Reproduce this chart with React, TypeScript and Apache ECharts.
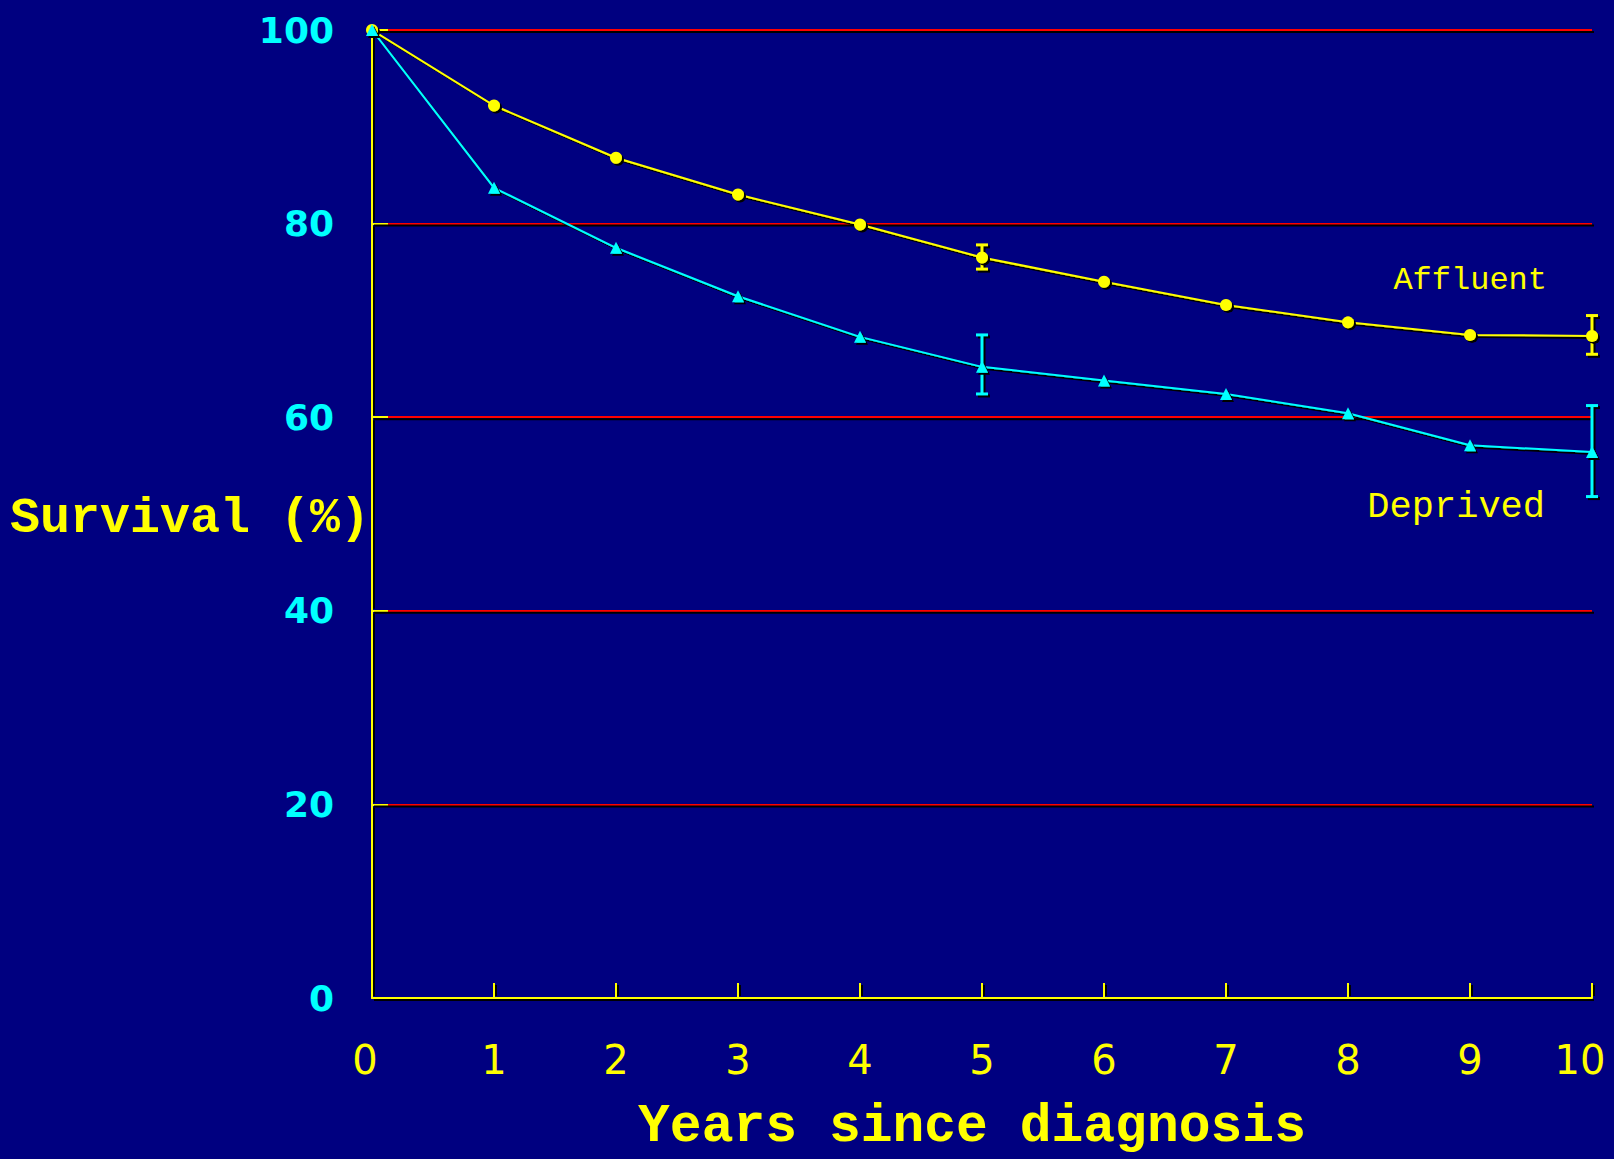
import React, { useEffect, useRef } from "react";
import * as echarts from "echarts";

const years = [0, 1, 2, 3, 4, 5, 6, 7, 8, 9, 10];
const affluent = [100, 92.2, 86.8, 83.0, 79.9, 76.5, 74.0, 71.6, 69.8, 68.5, 68.4];
const deprived = [100, 83.7, 77.5, 72.5, 68.3, 65.2, 63.8, 62.4, 60.4, 57.1, 56.4];
// [year, lower, upper]
const affluentCI = [
  [5, 75.3, 77.8],
  [10, 66.5, 70.5],
];
const deprivedCI = [
  [5, 62.4, 68.5],
  [10, 51.8, 61.2],
];
const yTicks = [0, 20, 40, 60, 80, 100];

const YELLOW = "#FFFF00";
const CYAN = "#00FFFF";
const NAVY = "#000080";
const RED = "#FF0000";
const SH = 2;

const shadow = { shadowColor: "#000", shadowOffsetX: 2, shadowOffsetY: 2, shadowBlur: 0 };
const textShadow = { textShadowColor: "#000", textShadowOffsetX: 2, textShadowOffsetY: 2, textShadowBlur: 0 };

function seg(x1: number, y1: number, x2: number, y2: number, style: any) {
  return { type: "line", shape: { x1, y1, x2, y2 }, style };
}

function errorSeries(data: number[][], color: string) {
  return {
    type: "custom",
    data,
    clip: false,
    z: 3,
    renderItem: (params: any, api: any) => {
      const x = api.value(0);
      const lo = api.value(1);
      const hi = api.value(2);
      const pLo = api.coord([x, lo]);
      const pHi = api.coord([x, hi]);
      const hw = 6;
      const children: any[] = [];
      const styles = [
        { stroke: "#000", lineWidth: 3, d: SH },
        { stroke: color, lineWidth: 3, d: 0 },
      ];
      styles.forEach((s) => {
        const st = { stroke: s.stroke, lineWidth: s.lineWidth };
        const d = s.d;
        children.push(seg(pLo[0] + d, pLo[1] + d, pHi[0] + d, pHi[1] + d, st));
        children.push(seg(pHi[0] - hw + d, pHi[1] + d, pHi[0] + hw + d, pHi[1] + d, st));
        children.push(seg(pLo[0] - hw + d, pLo[1] + d, pLo[0] + hw + d, pLo[1] + d, st));
      });
      return { type: "group", children };
    },
  };
}

export default function App() {
  const ref = useRef<HTMLDivElement>(null);
  useEffect(() => {
    document.body.style.margin = "0";
    document.body.style.background = NAVY;
    const chart = echarts.init(ref.current!, null, { renderer: "svg" });
    chart.setOption({
      animation: false,
      backgroundColor: NAVY,
      grid: { left: 372, right: 22, top: 30, bottom: 161, containLabel: false, outerBoundsMode: "none" },
      xAxis: {
        type: "value",
        min: 0,
        max: 10,
        interval: 1,
        name: "Years since diagnosis",
        nameLocation: "middle",
        nameGap: 102,
        nameTextStyle: {
          fontFamily: "Liberation Mono",
          fontWeight: "bold",
          fontSize: 53,
          color: YELLOW,
          padding: [0, 20, 0, 0],
          ...textShadow,
        },
        axisLine: { show: true, onZero: false, lineStyle: { color: YELLOW, width: 2 } },
        axisTick: { show: true, inside: true, length: 15, lineStyle: { color: YELLOW, width: 2 } },
        splitLine: { show: false },
        axisLabel: {
          margin: 42,
          fontFamily: "DejaVu Sans",
          fontSize: 40,
          color: YELLOW,
          ...textShadow,
          formatter: (v: number) => (v === 0 ? "{a|0}" : v === 10 ? "{b|10}" : String(v)),
          rich: {
            a: { fontFamily: "DejaVu Sans", fontSize: 40, color: YELLOW, padding: [0, 14, 0, 0], ...textShadow },
            b: { fontFamily: "DejaVu Sans", fontSize: 40, color: YELLOW, padding: [0, 24, 0, 0], ...textShadow },
          },
        },
      },
      yAxis: {
        type: "value",
        min: 0,
        max: 100,
        interval: 20,
        axisLine: { show: true, lineStyle: { color: YELLOW, width: 2 } },
        axisTick: { show: true, inside: true, length: 16, lineStyle: { color: YELLOW, width: 2 } },
        splitLine: { show: true, lineStyle: { color: RED, width: 2 } },
        axisLabel: {
          margin: 38,
          fontFamily: "DejaVu Sans",
          fontWeight: "bold",
          fontSize: 36,
          color: CYAN,
          ...textShadow,
          formatter: (v: number) => (yTicks.includes(v) ? String(v) : ""),
        },
      },
      series: [
        {
          // drop shadows of grid lines and y axis line
          type: "custom",
          data: yTicks.map((v) => [v]),
          clip: false,
          silent: true,
          z: 1,
          renderItem: (params: any, api: any) => {
            const v = api.value(0);
            const a = api.coord([0, v]);
            const b = api.coord([10, v]);
            const st = { stroke: "#000", lineWidth: 2 };
            const children: any[] = [seg(a[0] + SH, a[1] + SH, b[0] + SH, b[1] + SH, st)];
            if (v < 100) {
              const up = api.coord([0, v + 20]);
              children.push(seg(a[0] + SH, a[1] - 2, up[0] + SH, up[1] + 3, st));
            }
            return { type: "group", children };
          },
        },
        {
          // drop shadows of x ticks
          type: "custom",
          data: years.map((v) => [v]),
          clip: false,
          silent: true,
          z: 1,
          renderItem: (params: any, api: any) => {
            const v = api.value(0);
            const a = api.coord([v, 0]);
            if (v === 0) return null;
            return seg(a[0] + SH, a[1] - 2, a[0] + SH, a[1] - 15 + SH, { stroke: "#000", lineWidth: 2 });
          },
        },
        errorSeries(affluentCI, YELLOW),
        errorSeries(deprivedCI, CYAN),
        {
          type: "line",
          name: "Affluent",
          data: years.map((y, i) => [y, affluent[i]]),
          symbol: "circle",
          symbolSize: 12,
          clip: false,
          z: 4,
          lineStyle: { color: YELLOW, width: 2, ...shadow },
          itemStyle: { color: YELLOW, ...shadow },
        },
        {
          type: "line",
          name: "Deprived",
          data: years.map((y, i) => [y, deprived[i]]),
          symbol: "triangle",
          symbolSize: 12,
          clip: false,
          z: 5,
          lineStyle: { color: CYAN, width: 2, ...shadow },
          itemStyle: { color: CYAN, ...shadow },
        },
      ],
      graphic: [
        {
          type: "text",
          x: 370,
          y: 518,
          style: {
            text: "Survival (%)",
            fill: YELLOW,
            font: "bold 50px 'Liberation Mono'",
            textAlign: "right",
            textVerticalAlign: "middle",
            ...shadow,
          },
        },
        {
          type: "text",
          right: 67,
          top: 264,
          style: {
            text: "Affluent",
            fill: YELLOW,
            font: "32px 'Liberation Mono'",
            ...shadow,
          },
        },
        {
          type: "text",
          right: 69,
          top: 488,
          style: {
            text: "Deprived",
            fill: YELLOW,
            font: "37px 'Liberation Mono'",
            ...shadow,
          },
        },
      ],
    });
    return () => chart.dispose();
  }, []);
  return <div ref={ref} style={{ position: "fixed", left: 0, top: 0, width: 1614, height: 1159 }} />;
}
